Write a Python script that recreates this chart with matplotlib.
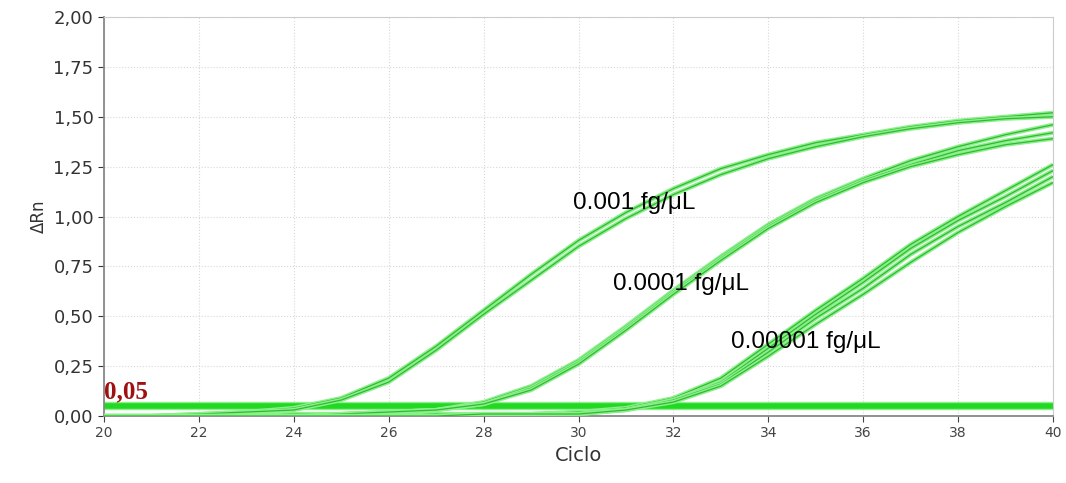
import matplotlib.pyplot as plt
import numpy as np

cycles = list(range(20, 41))

# 0.001 fg/uL (2 replicates)
g1a = [0.00, 0.00, 0.01, 0.02, 0.04, 0.09, 0.19, 0.35, 0.53, 0.71, 0.88, 1.02, 1.14, 1.24, 1.31, 1.37, 1.41, 1.45, 1.48, 1.50, 1.52]
g1b = [0.00, 0.00, 0.01, 0.02, 0.03, 0.08, 0.17, 0.33, 0.51, 0.68, 0.85, 0.99, 1.11, 1.21, 1.29, 1.35, 1.40, 1.44, 1.47, 1.49, 1.50]
# 0.0001 fg/uL (3 replicates)
g2a = [0.00, 0.00, 0.00, 0.00, 0.01, 0.01, 0.02, 0.03, 0.07, 0.15, 0.28, 0.45, 0.63, 0.80, 0.96, 1.09, 1.19, 1.28, 1.35, 1.41, 1.46]
g2b = [0.00, 0.00, 0.00, 0.00, 0.01, 0.01, 0.02, 0.03, 0.06, 0.14, 0.27, 0.44, 0.62, 0.79, 0.95, 1.08, 1.18, 1.26, 1.33, 1.38, 1.42]
g2c = [0.00, 0.00, 0.00, 0.00, 0.00, 0.01, 0.02, 0.03, 0.06, 0.13, 0.26, 0.43, 0.61, 0.78, 0.94, 1.07, 1.17, 1.25, 1.31, 1.36, 1.39]
# 0.00001 fg/uL (4 replicates)
g3a = [0.00, 0.00, 0.00, 0.00, 0.00, 0.00, 0.00, 0.01, 0.01, 0.01, 0.02, 0.04, 0.09, 0.19, 0.36, 0.53, 0.69, 0.86, 1.00, 1.13, 1.26]
g3b = [0.00, 0.00, 0.00, 0.00, 0.00, 0.00, 0.00, 0.01, 0.01, 0.01, 0.02, 0.03, 0.08, 0.17, 0.34, 0.51, 0.67, 0.84, 0.98, 1.10, 1.23]
g3c = [0.00, 0.00, 0.00, 0.00, 0.00, 0.00, 0.00, 0.00, 0.01, 0.01, 0.01, 0.03, 0.08, 0.16, 0.32, 0.49, 0.64, 0.81, 0.95, 1.07, 1.20]
g3d = [0.00, 0.00, 0.00, 0.00, 0.00, 0.00, 0.00, 0.00, 0.01, 0.01, 0.01, 0.03, 0.07, 0.15, 0.30, 0.46, 0.61, 0.77, 0.92, 1.05, 1.17]

threshold = 0.05
labels = ['0.001 fg/μL', '0.0001 fg/μL', '0.00001 fg/μL']
label_pos = [(29.88, 1.07), (30.73, 0.66), (33.21, 0.37)]
yticks = [0, 0.25, 0.5, 0.75, 1.0, 1.25, 1.5, 1.75, 2.0]
ytick_labels = ['0,00', '0,25', '0,50', '0,75', '1,00', '1,25', '1,50', '1,75', '2,00']

fig = plt.figure(figsize=(10.66, 4.83), dpi=100)
ax = fig.add_axes([0.0976, 0.1387, 0.8902, 0.8261])

# threshold band
ax.axhline(threshold, color='#8af08a', lw=6, zorder=2)
ax.axhline(threshold, color='#22d822', lw=4, zorder=2)

for y in [g1a, g1b, g2a, g2b, g2c, g3a, g3b, g3c, g3d]:
    ax.plot(cycles, y, color='#8af08a', lw=3, zorder=3, solid_capstyle='butt')
    ax.plot(cycles, y, color='#33b833', lw=0.9, zorder=3)

for t, (x, y) in zip(labels, label_pos):
    ax.text(x, y, t, fontsize=17.5, family='Liberation Sans', va='center', ha='left', zorder=5)

ax.text(20.0, 0.062, '0,05', color='#a01010', fontsize=18, fontweight='bold',
        family='Liberation Serif', va='bottom', ha='left', zorder=5)

ax.set_xlim(20, 40)
ax.set_ylim(0, 2)
ax.set_xticks(range(20, 41, 2))
ax.set_yticks(yticks)
ax.set_yticklabels(ytick_labels)
ax.tick_params(axis='y', labelsize=13, colors='#333333', length=4)
ax.tick_params(axis='x', labelsize=10, colors='#444444', length=4)
ax.grid(True, color='#d8d8d8', ls=':', lw=0.8)
ax.set_axisbelow(True)

for s in ['left', 'bottom']:
    ax.spines[s].set_color('#888888')
    ax.spines[s].set_linewidth(1.3)
for s in ['top', 'right']:
    ax.spines[s].set_color('#cccccc')

ax.set_xlabel('Ciclo', fontsize=14, color='#333333')
ax.set_ylabel('ΔRn', fontsize=12, color='#333333')

plt.savefig('out.png', dpi=100)
